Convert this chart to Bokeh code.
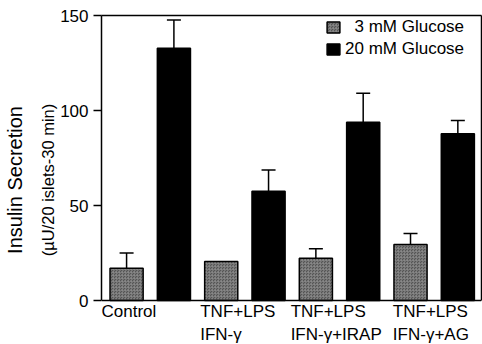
from bokeh.plotting import figure
from bokeh.models import (ColumnDataSource, Range1d, FixedTicker, LinearAxis, LabelSet,
                          Span, Whisker, TeeHead, Legend, LegendItem)
from bokeh.core.properties import value
from bokeh.embed import file_html
from bokeh.resources import INLINE

# Insulin secretion (µU/20 islets-30 min), mean and SEM
conditions = ["Control", "TNF+LPS\nIFN-\u03b3", "TNF+LPS\nIFN-\u03b3+IRAP", "TNF+LPS\nIFN-\u03b3+AG"]
glucose_3mM = [17.0, 20.5, 22.3, 29.5]
glucose_3mM_sem = [8.0, 0.0, 5.0, 5.8]
glucose_20mM = [132.7, 57.5, 93.8, 87.7]
glucose_20mM_sem = [14.9, 11.2, 15.3, 7.0]
y_ticks = [0, 50, 100, 150]

FONT = "Liberation Sans"
n = len(conditions)

# two bars per condition, one slot each
x_low = [2 * i for i in range(n)]
x_high = [2 * i + 1 for i in range(n)]
label_x = [0.05, 2.35, 4.43, 6.43]

# page geometry: the frame runs to the bottom of the canvas so that the
# condition names can sit below the zero line inside it
W, H = 482, 344
LEFT, RIGHT, TOP = 101, 1, 15
ZERO_PX = 300
Y_MAX = 150
px_per_y = (ZERO_PX - TOP) / Y_MAX
Y_MIN = -(H - ZERO_PX) / px_per_y

p = figure(width=W, height=H, output_backend="svg", toolbar_location=None,
           x_range=Range1d(-0.53, 7.5), y_range=Range1d(Y_MIN, Y_MAX),
           x_axis_location=None,
           min_border_left=LEFT, min_border_right=RIGHT, min_border_top=TOP,
           min_border_bottom=0)
p.xgrid.visible = False
p.ygrid.visible = False
p.outline_line_color = None
p.background_fill_color = "white"

low_src = ColumnDataSource(dict(x=x_low, top=glucose_3mM))
high_src = ColumnDataSource(dict(x=x_high, top=glucose_20mM))

r_low = p.vbar(x="x", top="top", bottom=0, width=0.7, source=low_src,
               fill_color="#555555", line_color="black", line_width=1.5,
               hatch_pattern="criss_cross", hatch_color="#8c8c8c",
               hatch_scale=3, hatch_weight=0.6)
r_high = p.vbar(x="x", top="top", bottom=0, width=0.7, source=high_src,
                fill_color="black", line_color="black", line_width=1.5)

# upward-only error bars
ex, elo, ehi = [], [], []
for xs, vals, errs in ((x_low, glucose_3mM, glucose_3mM_sem),
                       (x_high, glucose_20mM, glucose_20mM_sem)):
    for xv, v, e in zip(xs, vals, errs):
        if e > 0:
            ex.append(xv)
            elo.append(v)
            ehi.append(v + e)
err_src = ColumnDataSource(dict(base=ex, lower=elo, upper=ehi))
p.add_layout(Whisker(source=err_src, base="base", lower="lower", upper="upper",
                     line_color="black", line_width=1.5, lower_head=None,
                     upper_head=TeeHead(size=14, line_color="black", line_width=1.5)))

# zero line and box edges
p.add_layout(Span(location=0, dimension="width", line_color="black", line_width=1.5))


def bare_axis(**kw):
    return LinearAxis(ticker=FixedTicker(ticks=[]), major_tick_out=0, major_tick_in=0,
                      major_label_standoff=0, minor_tick_line_color=None,
                      axis_line_color="black", axis_line_width=1.5, **kw)


p.add_layout(bare_axis(bounds=(0, Y_MAX)), "right")
p.add_layout(bare_axis(), "above")

# condition names under the bars
cat_src = ColumnDataSource(dict(x=label_x, y=[-0.8] * n, text=conditions))
p.add_layout(LabelSet(source=cat_src, x="x", y="y", text="text",
                      text_align="center", text_baseline="top",
                      text_font=value(FONT), text_font_size=value("17px"),
                      text_color="black", text_line_height=1.22))

ya = p.yaxis[0]
ya.bounds = (0, Y_MAX)
ya.ticker = FixedTicker(ticks=y_ticks)
ya.major_tick_out = 8
ya.major_tick_in = 0
ya.major_tick_line_width = 1.5
ya.minor_tick_line_color = None
ya.axis_line_width = 1.5
ya.major_label_standoff = 5
ya.major_label_text_font = FONT
ya.major_label_text_font_size = "17px"
ya.major_label_text_color = "black"
ya.axis_label = "(\u00b5U/20 islets-30 min)"
ya.axis_label_text_font = FONT
ya.axis_label_text_font_size = "16.5px"
ya.axis_label_text_font_style = "normal"
ya.axis_label_text_color = "black"
ya.axis_label_standoff = 0

title_axis = bare_axis(bounds=(0, Y_MAX), axis_label="Insulin Secretion",
                       axis_label_text_font=FONT, axis_label_text_font_size="20px",
                       axis_label_text_font_style="normal",
                       axis_label_text_color="black", axis_label_standoff=11)
title_axis.axis_line_color = None
p.add_layout(title_axis, "left")

legend = Legend(items=[LegendItem(label="\u2007" + "3 mM Glucose", renderers=[r_low]),
                       LegendItem(label="20 mM Glucose", renderers=[r_high])],
                location=(224, 285), padding=0, margin=0, spacing=2,
                glyph_width=16, glyph_height=14, label_height=20,
                label_standoff=4, label_text_font=FONT,
                label_text_font_size="17px", label_text_color="black",
                background_fill_alpha=0, border_line_color=None)
p.add_layout(legend)

open("out.html", "w").write(file_html(p, INLINE))
